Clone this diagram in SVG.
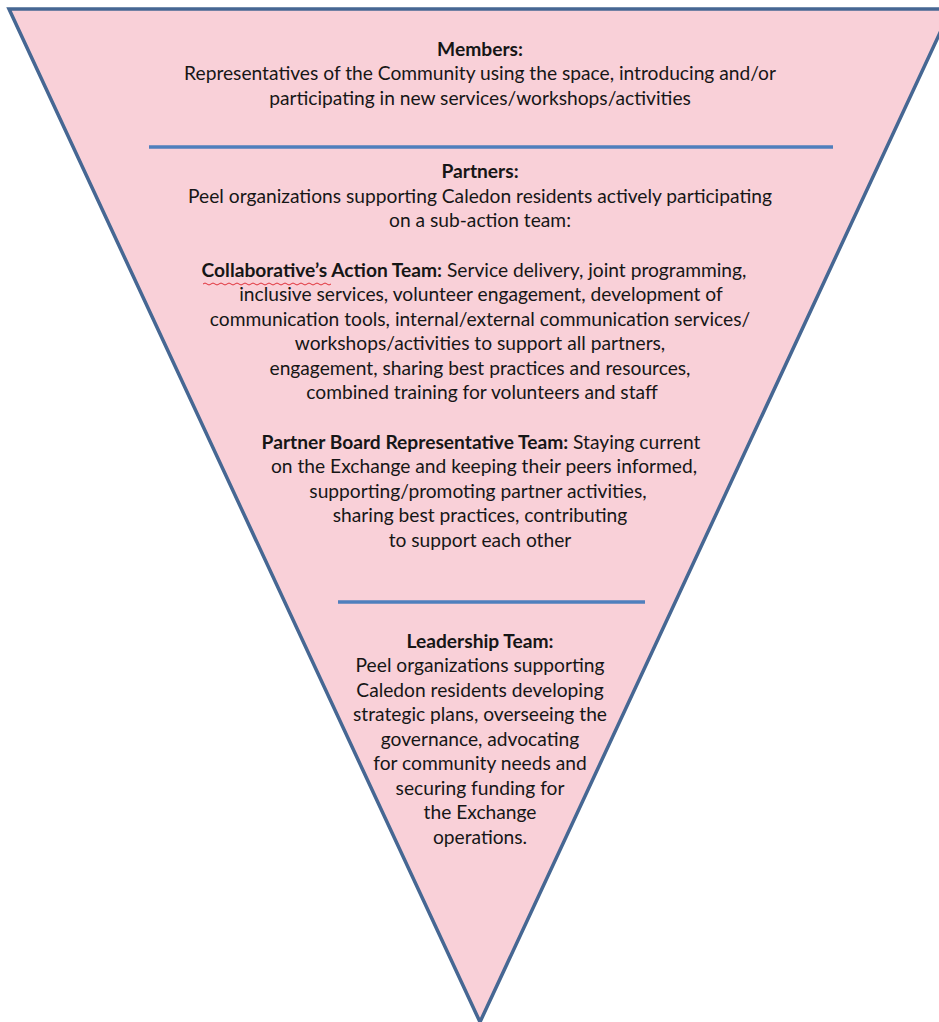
<svg xmlns="http://www.w3.org/2000/svg" width="939" height="1022" viewBox="0 0 939 1022">
  <style>
    .shape { fill: #f9d0d8; stroke: #466793; stroke-width: 3.5; stroke-linejoin: miter; }
    .rule { stroke: #4f7fbd; stroke-width: 3.5; }
    text { font-family: Lato, "Liberation Sans", sans-serif; font-size: 19.2px; fill: #161616; text-anchor: middle; }
    .b { font-weight: bold; }
    .squiggle { fill: none; stroke: #e0303a; stroke-width: 1; }
  </style>

  <!-- inverted pyramid -->
  <g id="pyramid">
    <polygon class="shape" points="9,9 951,9 480,1022"/>
  </g>

  <!-- dividers between tiers -->
  <g id="dividers">
    <line class="rule" x1="149" y1="147" x2="833" y2="147"/>
    <line class="rule" x1="338" y1="602" x2="645" y2="602"/>
  </g>

  <g id="members">
    <text x="480" y="56" class="b">Members:</text>
    <text x="480" y="80">Representatives of the Community using the space, introducing and/or</text>
    <text x="480" y="105">participating in new services/workshops/activities</text>
  </g>

  <g id="partners">
    <text x="480" y="178" class="b">Partners:</text>
    <text x="480" y="203">Peel organizations supporting Caledon residents actively participating</text>
    <text x="480" y="227">on a sub-action team:</text>

    <text x="474" y="277"><tspan class="b">Collaborative’s Action Team:</tspan> Service delivery, joint programming,</text>
    <path class="squiggle" d="M203,284 q2,-2 4,0 t4,0 t4,0 t4,0 t4,0 t4,0 t4,0 t4,0 t4,0 t4,0 t4,0 t4,0 t4,0 t4,0 t4,0 t4,0 t4,0 t4,0 t4,0 t4,0 t4,0 t4,0 t4,0 t4,0 t4,0 t4,0 t4,0 t4,0 t4,0 t4,0 t4,0 t4,0"/>
    <text x="481" y="301">inclusive services, volunteer engagement, development of</text>
    <text x="480" y="326">communication tools, internal/external communication services/</text>
    <text x="480" y="350">workshops/activities to support all partners,</text>
    <text x="480" y="375">engagement, sharing best practices and resources,</text>
    <text x="482" y="399">combined training for volunteers and staff</text>

    <text x="481" y="449"><tspan class="b">Partner Board Representative Team:</tspan> Staying current</text>
    <text x="484" y="473">on the Exchange and keeping their peers informed,</text>
    <text x="478" y="498">supporting/promoting partner activities,</text>
    <text x="480" y="522">sharing best practices, contributing</text>
    <text x="480" y="547">to support each other</text>
  </g>

  <g id="leadership">
    <text x="480" y="648" class="b">Leadership Team:</text>
    <text x="480" y="672">Peel organizations supporting</text>
    <text x="480" y="697">Caledon residents developing</text>
    <text x="480" y="721">strategic plans, overseeing the</text>
    <text x="480" y="746">governance, advocating</text>
    <text x="480" y="770">for community needs and</text>
    <text x="480" y="795">securing funding for</text>
    <text x="480" y="819">the Exchange</text>
    <text x="480" y="844">operations.</text>
  </g>
</svg>
